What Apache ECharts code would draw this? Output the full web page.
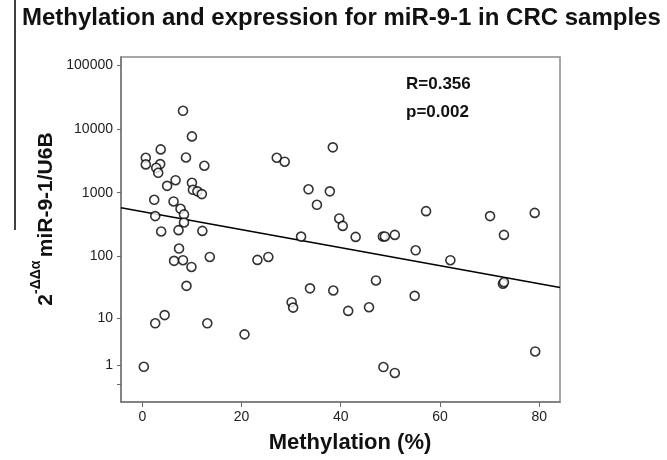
<!DOCTYPE html>
<html>
<head>
<meta charset="utf-8">
<script src="https://cdn.jsdelivr.net/npm/echarts@6/dist/echarts.min.js"></script>
<style>
  html, body { margin: 0; padding: 0; background: #fff; }
  #chart { width: 667px; height: 460px; }
</style>
</head>
<body>
<div id="chart"></div>
<script>
// Methylation (%) of each CRC sample
const methylation = [
  8.2, 10.0, 3.7, 8.8, 0.7, 0.7, 3.6, 2.8, 3.2, 12.5,
  6.7, 5.0, 10.0, 10.2, 11.1, 12.0, 2.4, 6.3, 7.7, 8.4,
  2.6, 8.4, 3.8, 7.3, 12.1, 7.4, 27.1, 28.7, 33.5, 32.0,
  6.4, 8.2, 13.6, 9.9, 23.2, 25.4, 8.9, 33.8, 4.5, 2.6,
  13.1, 20.6, 30.1, 30.4, 0.3, 38.4, 37.8, 35.2, 39.7, 40.4,
  43.0, 48.5, 48.9, 50.9, 57.2, 55.1, 62.1, 70.1, 47.1, 38.5,
  54.9, 41.5, 45.7, 48.6, 50.9, 79.1, 72.9, 72.7, 72.9, 79.2
];
// Relative miR-9-1 expression (2^-ddCt, normalised to U6B) of the same samples
const expression = [
  19100, 7600, 4760, 3560, 3520, 2770, 2800, 2450, 2050, 2640,
  1570, 1280, 1430, 1110, 1050, 950, 775, 730, 560, 457,
  430, 342, 247, 259, 252, 133, 3520, 3050, 1130, 205,
  85, 87, 98, 68, 88, 98, 34, 31, 11.2, 8.1,
  8.1, 5.1, 18.4, 15.0, 0.9, 5120, 1050, 646, 395, 302,
  203, 206, 206, 218, 514, 125, 87, 430, 41.5, 28.6,
  23.4, 13.2, 15.2, 0.88, 0.52, 483, 218, 36.8, 38.9, 2.3
];
// End points of the fitted line (methylation, expression)
const fitLineX = [-4.3, 84.2];
const fitLineY = [580, 32];
// Axis ticks
const xTickValues = [0, 20, 40, 60, 80];
const yTickValues = [1, 10, 100, 1000, 10000, 100000];
const yMinorTick = [0];
// Annotation
const statsText = ['R=0.356', 'p=0.002'];

// The expression axis is logarithmic on (value + 1)
const toAxis = v => Math.log10(v + 1);
const fromAxis = t => Math.round(Math.pow(10, t) - 1);

const FONT = '"Liberation Sans", Arial, sans-serif';

const chart = echarts.init(document.getElementById('chart'), null, { renderer: 'canvas' });

chart.setOption({
  animation: false,
  backgroundColor: '#fff',
  title: {
    text: 'Methylation and expression for miR-9-1 in CRC samples',
    left: 17,
    top: 1,
    textStyle: { fontFamily: FONT, fontSize: 24, fontWeight: 'bold', color: '#111' }
  },
  grid: {
    left: 121, right: 107, top: 57, bottom: 58,
    show: true, borderColor: '#8a8a8a', borderWidth: 1.5, backgroundColor: 'transparent'
  },
  xAxis: {
    type: 'value',
    min: -4.3,
    max: 84.2,
    axisLine: { show: true, onZero: false, lineStyle: { color: '#777', width: 1.5 } },
    axisTick: { show: true, length: 5, customValues: xTickValues, lineStyle: { color: '#666' } },
    axisLabel: {
      customValues: xTickValues, margin: 8,
      fontFamily: FONT, fontSize: 14, color: '#222'
    },
    splitLine: { show: false }
  },
  yAxis: {
    type: 'value',
    min: -0.272,
    max: 5.122,
    axisLine: { show: true, onZero: false, lineStyle: { color: '#777', width: 1.5 } },
    axisTick: {
      show: true, length: 4,
      customValues: yMinorTick.concat(yTickValues).map(toAxis),
      lineStyle: { color: '#666' }
    },
    axisLabel: {
      customValues: yTickValues.map(toAxis), margin: 8,
      fontFamily: FONT, fontSize: 14, color: '#222',
      formatter: v => String(fromAxis(v))
    },
    splitLine: { show: false }
  },
  series: [
    {
      type: 'line',
      data: fitLineX.map((x, i) => [x, toAxis(fitLineY[i])]),
      symbol: 'none',
      lineStyle: { color: '#000', width: 1.6 },
      silent: true,
      z: 2
    },
    {
      type: 'scatter',
      data: methylation.map((x, i) => [x, toAxis(expression[i])]),
      symbol: 'circle',
      symbolSize: 9,
      itemStyle: { color: '#fff', borderColor: '#000', borderWidth: 1.6 },
      z: 3
    }
  ],
  graphic: [
    {
      type: 'line',
      shape: { x1: 15, y1: 0, x2: 15, y2: 230 },
      style: { stroke: '#000', lineWidth: 1.5 }
    },
    {
      type: 'text',
      x: 43, y: 219,
      rotation: Math.PI / 2,
      style: {
        text: '{b|2}{s|-ΔΔα} {b|miR-9-1/U6B}',
        align: 'center', verticalAlign: 'middle',
        fill: '#111',
        rich: {
          b: { fontFamily: FONT, fontSize: 21, fontWeight: 'bold', fill: '#111', lineHeight: 28, verticalAlign: 'bottom' },
          s: { fontFamily: FONT, fontSize: 14, fontWeight: 'bold', fill: '#111', lineHeight: 28, verticalAlign: 'top' }
        }
      }
    },
    {
      type: 'text',
      x: 350, y: 443,
      style: {
        text: 'Methylation (%)',
        align: 'center', verticalAlign: 'middle',
        fontFamily: FONT, fontSize: 22, fontWeight: 'bold', fill: '#111'
      }
    },
    {
      type: 'text',
      x: 406, y: 84,
      style: {
        text: statsText[0],
        align: 'left', verticalAlign: 'middle',
        fontFamily: FONT, fontSize: 17, fontWeight: 'bold', fill: '#111'
      }
    },
    {
      type: 'text',
      x: 406, y: 112,
      style: {
        text: statsText[1],
        align: 'left', verticalAlign: 'middle',
        fontFamily: FONT, fontSize: 17, fontWeight: 'bold', fill: '#111'
      }
    }
  ]
});
</script>
</body>
</html>
